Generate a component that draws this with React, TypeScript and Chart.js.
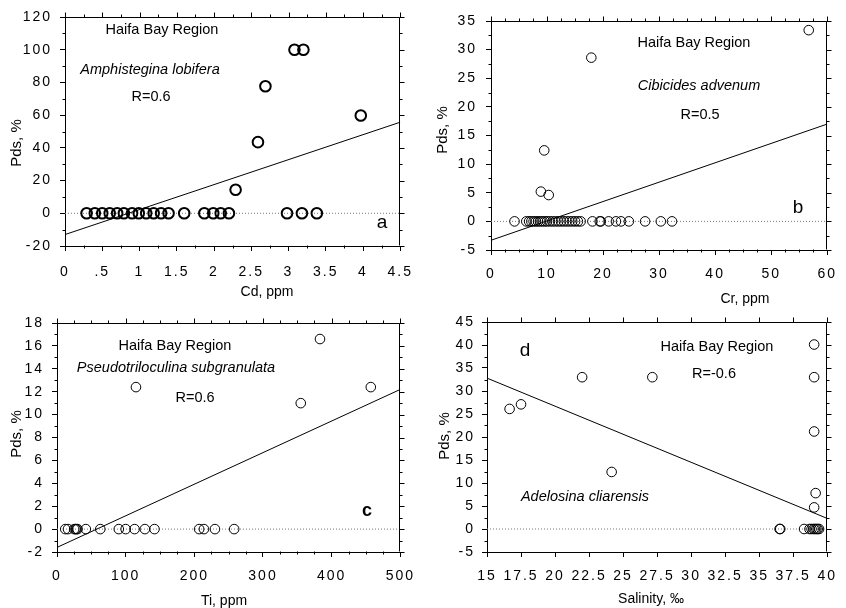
import React, { useEffect, useRef } from "react";
import { Chart, registerables } from "chart.js";

Chart.register(...registerables);

// ---------- Data ----------
// Panel a: Cd vs Pds (Amphistegina lobifera)
const cdValues = [0.29, 0.4, 0.5, 0.6, 0.7, 0.79, 0.9, 0.99, 1.09, 1.19, 1.29, 1.39, 1.6, 1.87, 1.99, 2.09, 2.2, 2.29, 2.59, 2.69, 2.98, 3.08, 3.18, 3.2, 3.38, 3.97];
const pdsA = [0, 0, 0, 0, 0, 0, 0, 0, 0, 0, 0, 0, 0, 0, 0, 0, 0, 14.4, 43.5, 77.7, 0, 100, 0, 100, 0, 59.8];
const fitAX = [0, 4.5];
const fitAY = [-13, 55.7];

// Panel b: Cr vs Pds (Cibicides advenum)
const crValues = [4.2, 6.3, 6.8, 7.2, 7.6, 8.0, 8.4, 8.8, 9.2, 9.6, 10.0, 10.5, 11.0, 11.5, 12.0, 12.5, 13.0, 13.5, 14.0, 14.5, 15.0, 15.5, 16.0, 18.1, 19.4, 19.6, 21.0, 22.3, 23.2, 24.6, 27.5, 30.3, 32.3, 8.9, 10.3, 9.5, 17.9, 56.7];
const pdsB = [0, 0, 0, 0, 0, 0, 0, 0, 0, 0, 0, 0, 0, 0, 0, 0, 0, 0, 0, 0, 0, 0, 0, 0, 0, 0, 0, 0, 0, 0, 0, 0, 0, 5.2, 4.6, 12.4, 28.6, 33.4];
const fitBX = [0, 60];
const fitBY = [-3.3, 17.0];

// Panel c: Ti vs Pds (Pseudotriloculina subgranulata)
const tiValues = [12, 16, 25, 27, 28, 30, 42, 63, 90, 100, 113, 128, 142, 207, 214, 230, 258, 115, 355, 383, 457];
const pdsC = [0, 0, 0, 0, 0, 0, 0, 0, 0, 0, 0, 0, 0, 0, 0, 0, 0, 12.4, 11.0, 16.6, 12.4];
const fitCX = [0, 500];
const fitCY = [-1.6, 12.2];

// Panel d: Salinity vs Pds (Adelosina cliarensis)
const salValues = [36.5, 36.55, 38.3, 38.7, 38.85, 39.0, 39.1, 39.2, 39.3, 39.4, 16.66, 17.5, 21.99, 24.16, 27.15, 39.04, 39.04, 39.04, 39.15, 39.04];
const pdsD = [0, 0, 0, 0, 0, 0, 0, 0, 0, 0, 26.1, 27.1, 33.0, 12.4, 33.0, 40.1, 33.0, 21.2, 7.8, 4.7];
const fitDX = [15, 40];
const fitDY = [32.8, 2.3];

// Axis ranges / tick steps
const axisA = { xMin: 0, xMax: 4.5, xStep: 0.5, yMin: -20, yMax: 120, yStep: 20 };
const axisB = { xMin: 0, xMax: 60, xStep: 10, yMin: -5, yMax: 35, yStep: 5 };
const axisC = { xMin: 0, xMax: 500, xStep: 100, yMin: -2, yMax: 18, yStep: 2 };
const axisD = { xMin: 15, xMax: 40, xStep: 2.5, yMin: -5, yMax: 45, yStep: 5 };

const FONT = "'Liberation Sans', Arial, Helvetica, sans-serif";

type Note = { text: string; x: number; y: number; size: number; italic?: boolean; bold?: boolean };

type PanelCfg = {
  left: number; top: number; width: number; height: number;
  padTop: number; padRight: number; yWidth: number; xHeight: number;
  xPad: number; yPad: number;
  axis: { xMin: number; xMax: number; xStep: number; yMin: number; yMax: number; yStep: number };
  xMinorDiv: number; yMinorDiv: number;
  xs: number[]; ys: number[]; fitX: number[]; fitY: number[];
  radius: number; pointWidth: number;
  xTitle: string; xTitlePos: [number, number];
  yTitle: string; yTitlePos: [number, number];
  notes: Note[];
  xFmt?: (v: number) => string;
};

const panels: PanelCfg[] = [
  {
    left: 0, top: 0, width: 423, height: 304,
    padTop: 17, padRight: 10, yWidth: 65, xHeight: 58, xPad: 13, yPad: 8,
    axis: axisA, xMinorDiv: 2, yMinorDiv: 2,
    xs: cdValues, ys: pdsA, fitX: fitAX, fitY: fitAY,
    radius: 5.3, pointWidth: 2,
    xTitle: "Cd, ppm", xTitlePos: [267, 292],
    yTitle: "Pds, %", yTitlePos: [17, 143],
    notes: [
      { text: "Haifa Bay Region", x: 162, y: 30, size: 14.5 },
      { text: "Amphistegina lobifera", x: 150, y: 70, size: 14.5, italic: true },
      { text: "R=0.6", x: 151, y: 97, size: 14.5 },
      { text: "a", x: 382, y: 223, size: 19 },
    ],
    xFmt: (v) => (v > 0 && v < 1 ? String(v).replace(/^0/, "") : String(v)),
  },
  {
    left: 423, top: 0, width: 423, height: 308,
    padTop: 21, padRight: 10, yWidth: 68, xHeight: 58, xPad: 11, yPad: 9,
    axis: axisB, xMinorDiv: 4, yMinorDiv: 2,
    xs: crValues, ys: pdsB, fitX: fitBX, fitY: fitBY,
    radius: 4.8, pointWidth: 1,
    xTitle: "Cr, ppm", xTitlePos: [322, 299],
    yTitle: "Pds, %", yTitlePos: [20, 130],
    notes: [
      { text: "Haifa Bay Region", x: 271, y: 43, size: 14.5 },
      { text: "Cibicides advenum", x: 276, y: 86, size: 14.5, italic: true },
      { text: "R=0.5", x: 277, y: 115, size: 14.5 },
      { text: "b", x: 375, y: 208, size: 19 },
    ],
  },
  {
    left: 0, top: 304, width: 423, height: 310,
    padTop: 19, padRight: 21, yWidth: 57, xHeight: 62, xPad: 11, yPad: 8,
    axis: axisC, xMinorDiv: 4, yMinorDiv: 2,
    xs: tiValues, ys: pdsC, fitX: fitCX, fitY: fitCY,
    radius: 4.8, pointWidth: 1,
    xTitle: "Ti, ppm", xTitlePos: [224, 297],
    yTitle: "Pds, %", yTitlePos: [17, 130],
    notes: [
      { text: "Haifa Bay Region", x: 175, y: 42, size: 14.5 },
      { text: "Pseudotriloculina subgranulata", x: 176, y: 64, size: 14.5, italic: true },
      { text: "R=0.6", x: 195, y: 94, size: 14.5 },
      { text: "c", x: 367, y: 207, size: 18, bold: true },
    ],
  },
  {
    left: 423, top: 304, width: 423, height: 310,
    padTop: 18, padRight: 13, yWidth: 64, xHeight: 62, xPad: 11, yPad: 7,
    axis: axisD, xMinorDiv: 1, yMinorDiv: 2,
    xs: salValues, ys: pdsD, fitX: fitDX, fitY: fitDY,
    radius: 4.8, pointWidth: 1,
    xTitle: "Salinity, ‰", xTitlePos: [228, 295],
    yTitle: "Pds, %", yTitlePos: [22, 132],
    notes: [
      { text: "d", x: 102, y: 47, size: 19 },
      { text: "Haifa Bay Region", x: 294, y: 43, size: 14.5 },
      { text: "R=-0.6", x: 291, y: 70, size: 14.5 },
      { text: "Adelosina cliarensis", x: 162, y: 193, size: 14.5, italic: true },
    ],
  },
];

function makeFramePlugin(cfg: PanelCfg) {
  return {
    id: "frameAndText",
    beforeDraw(chart: any) {
      chart.ctx.letterSpacing = "2px";
    },
    afterDraw(chart: any) {
      const ctx: CanvasRenderingContext2D = chart.ctx;
      const { left, right, top, bottom } = chart.chartArea;
      const xs = chart.scales.x;
      const ys = chart.scales.y;
      ctx.save();
      (ctx as any).letterSpacing = "0px";
      ctx.strokeStyle = "#000";
      ctx.lineWidth = 1;
      const L = Math.round(left) + 0.5;
      const R = Math.round(right) - 0.5;
      const T = Math.round(top) + 0.5;
      const B = Math.round(bottom) - 0.5;
      ctx.beginPath();
      ctx.moveTo(L, T);
      ctx.lineTo(R, T);
      ctx.lineTo(R, B);
      ctx.stroke();
      const a = cfg.axis;
      const xMinor = a.xStep / cfg.xMinorDiv;
      const nx = Math.round((a.xMax - a.xMin) / xMinor);
      ctx.beginPath();
      for (let i = 0; i <= nx; i++) {
        const v = a.xMin + i * xMinor;
        const px = Math.round(xs.getPixelForValue(v)) + 0.5;
        const major = i % cfg.xMinorDiv === 0;
        const len = major ? 5 : 3;
        ctx.moveTo(px, T);
        ctx.lineTo(px, T - len);
        if (!major) {
          ctx.moveTo(px, B);
          ctx.lineTo(px, B + len);
        }
      }
      const yMinor = a.yStep / cfg.yMinorDiv;
      const ny = Math.round((a.yMax - a.yMin) / yMinor);
      for (let i = 0; i <= ny; i++) {
        const v = a.yMin + i * yMinor;
        const py = Math.round(ys.getPixelForValue(v)) + 0.5;
        const major = i % cfg.yMinorDiv === 0;
        const len = major ? 5 : 3;
        ctx.moveTo(R, py);
        ctx.lineTo(R + len, py);
        if (!major) {
          ctx.moveTo(L, py);
          ctx.lineTo(L - len, py);
        }
      }
      ctx.stroke();

      ctx.fillStyle = "#000";
      ctx.textAlign = "center";
      ctx.textBaseline = "middle";
      ctx.font = `14px ${FONT}`;
      ctx.fillText(cfg.xTitle, cfg.xTitlePos[0], cfg.xTitlePos[1]);
      ctx.save();
      ctx.translate(cfg.yTitlePos[0], cfg.yTitlePos[1]);
      ctx.rotate(-Math.PI / 2);
      ctx.font = `15px ${FONT}`;
      ctx.fillText(cfg.yTitle, 0, 0);
      ctx.restore();

      for (const n of cfg.notes) {
        ctx.font = `${n.italic ? "italic " : ""}${n.bold ? "bold " : ""}${n.size}px ${FONT}`;
        ctx.fillText(n.text, n.x, n.y);
      }
      ctx.restore();
    },
  };
}

function Panel({ cfg }: { cfg: PanelCfg }) {
  const ref = useRef<HTMLCanvasElement>(null);
  useEffect(() => {
    const a = cfg.axis;
    const points = cfg.xs.map((x, i) => ({ x, y: cfg.ys[i] }));
    const fit = cfg.fitX.map((x, i) => ({ x, y: cfg.fitY[i] }));
    const zero = [{ x: a.xMin, y: 0 }, { x: a.xMax, y: 0 }];
    const tickFont = { family: FONT, size: 14 };
    const chart = new Chart(ref.current!, {
      type: "scatter",
      data: {
        datasets: [
          {
            data: points,
            showLine: false,
            pointRadius: cfg.radius,
            pointBorderWidth: cfg.pointWidth,
            pointBorderColor: "#000",
            pointBackgroundColor: "rgba(0,0,0,0)",
          },
          {
            data: fit,
            showLine: true,
            borderColor: "#000",
            borderWidth: 1,
            pointRadius: 0,
          },
          {
            data: zero,
            showLine: true,
            borderColor: "#777",
            borderWidth: 1,
            borderDash: [1, 2],
            pointRadius: 0,
          },
        ] as any,
      },
      options: {
        responsive: false,
        animation: false,
        devicePixelRatio: 1,
        layout: { padding: { left: 0, top: cfg.padTop, right: cfg.padRight, bottom: 0 } },
        plugins: { legend: { display: false }, tooltip: { enabled: false } },
        scales: {
          x: {
            type: "linear",
            min: a.xMin,
            max: a.xMax,
            afterFit: (s: any) => { s.height = cfg.xHeight; },
            ticks: {
              stepSize: a.xStep,
              autoSkip: false,
              maxRotation: 0,
              minRotation: 0,
              color: "#000",
              font: tickFont,
              padding: cfg.xPad,
              callback: (v: any) => (cfg.xFmt ? cfg.xFmt(Number(v)) : String(Number(v))),
            },
            grid: { drawOnChartArea: false, drawTicks: true, tickLength: 5, color: "#000", tickColor: "#000" },
            border: { display: true, color: "#000", width: 1 },
          },
          y: {
            type: "linear",
            min: a.yMin,
            max: a.yMax,
            afterFit: (s: any) => { s.width = cfg.yWidth; },
            ticks: {
              stepSize: a.yStep,
              autoSkip: false,
              color: "#000",
              font: tickFont,
              padding: cfg.yPad,
              callback: (v: any) => String(Number(v)),
            },
            grid: { drawOnChartArea: false, drawTicks: true, tickLength: 5, color: "#000", tickColor: "#000" },
            border: { display: true, color: "#000", width: 1 },
          },
        },
      } as any,
      plugins: [makeFramePlugin(cfg) as any],
    });
    return () => chart.destroy();
  }, [cfg]);
  return (
    <canvas
      ref={ref}
      width={cfg.width}
      height={cfg.height}
      style={{ position: "absolute", left: cfg.left, top: cfg.top, width: cfg.width, height: cfg.height }}
    />
  );
}

export default function App() {
  return (
    <div
      style={{
        position: "absolute",
        left: 0,
        top: 0,
        width: 846,
        height: 608,
        overflow: "hidden",
        background: "#fff",
      }}
    >
      {panels.map((p, i) => (
        <Panel key={i} cfg={p} />
      ))}
    </div>
  );
}
